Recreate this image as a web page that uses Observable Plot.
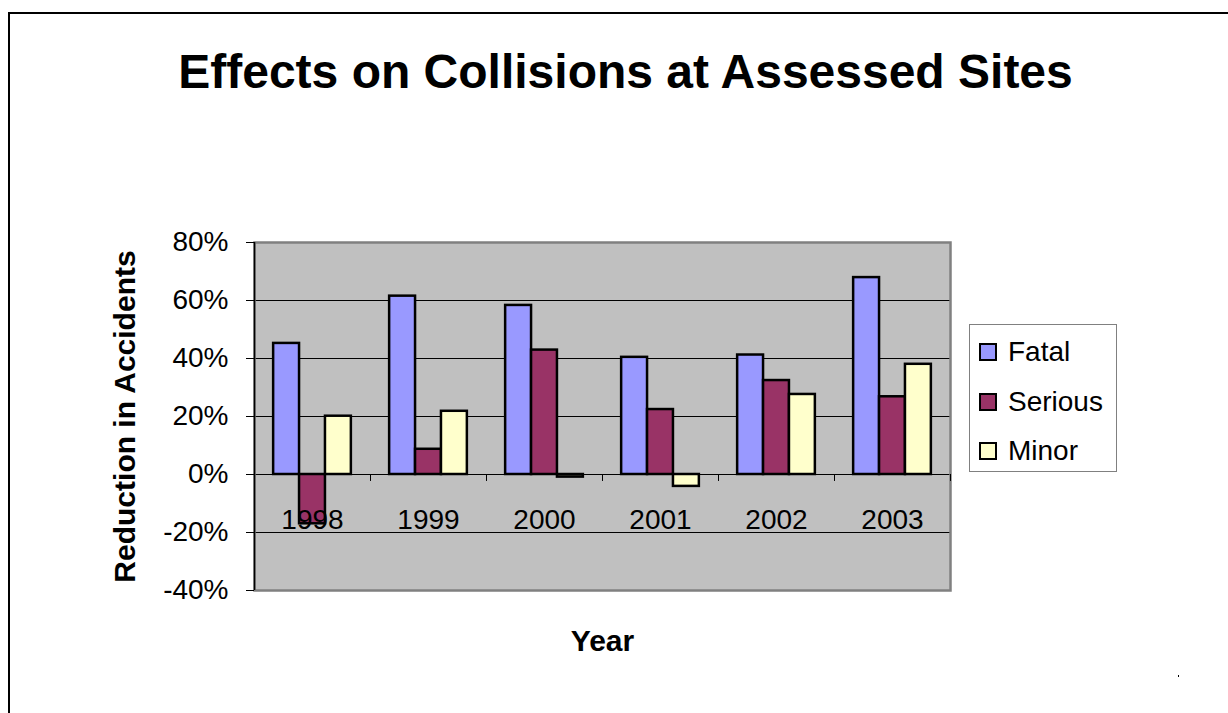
<!DOCTYPE html>
<html><head><meta charset="utf-8">
<script src="https://cdn.jsdelivr.net/npm/d3@7"></script>
<script src="https://cdn.jsdelivr.net/npm/@observablehq/plot@0.6"></script>
<style>
body{margin:0;background:#fff;font-family:"Liberation Sans",Arial,sans-serif;}
#wrap{position:relative;width:1228px;height:713px;overflow:hidden;}
#border{position:absolute;left:8px;top:12px;width:1300px;height:800px;border-left:2px solid #000;border-top:2px solid #000;}
#title{position:absolute;left:0;top:48px;width:1251px;text-align:center;font-weight:bold;font-size:48px;line-height:48px;color:#000;}
#chart{position:absolute;left:0;top:200px;}
#legend{position:absolute;left:969px;top:324px;width:148px;height:148px;box-sizing:border-box;border:1px solid #808080;background:#fff;}
.row{position:absolute;left:0;height:48px;width:146px;}
.sw{position:absolute;left:9px;top:15px;width:14px;height:14px;border:2px solid #000;}
.lab{position:absolute;left:38px;top:0;line-height:48px;font-size:28px;color:#000;}
#dot{position:absolute;left:1178px;top:675px;width:1px;height:2px;background:#000;}
</style></head>
<body>
<div id="wrap">
  <div id="border"></div>
  <div id="title">Effects on Collisions at Assessed Sites</div>
  <div id="chart"></div>
  <div id="legend"></div>
  <div id="dot"></div>
</div>
<script>
const years = ["1998", "1999", "2000", "2001", "2002", "2003"];
const seriesNames = ["Fatal", "Serious", "Minor"];
const fatal = [45.2, 61.5, 58.3, 40.4, 41.2, 67.9];
const serious = [-17.0, 8.7, 42.9, 22.4, 32.4, 26.8];
const minor = [20.1, 21.8, -0.9, -4.1, 27.6, 38.0];
const yTicks = [-40, -20, 0, 20, 40, 60, 80];
const colors = ["#9999FF", "#993366", "#FFFFCC"];

const W = 1228, H = 470;
const mL = 254, mR = 278, mT = 42, mB = 80;
const pInner = 0.33, pOuter = 0.165;
const plotW = W - mL - mR;
const step = plotW / (years.length - pInner + 2 * pOuter);
const bw = step * (1 - pInner);
const half = step / 2;
const tickLen = 2.4; // in y units (percent)

const seriesValues = [fatal, serious, minor];
const barMarks = seriesValues.map((vals, s) =>
  Plot.barY(vals, {
    x: (d, i) => years[i],
    y1: 0,
    y2: d => d,
    fill: colors[s],
    stroke: "#000",
    strokeWidth: 2.5,
    insetLeft: s * bw / 3,
    insetRight: (2 - s) * bw / 3
  })
);

const chart = Plot.plot({
  width: W, height: H,
  marginLeft: mL, marginRight: mR, marginTop: mT, marginBottom: mB,
  style: {fontFamily: '"Liberation Sans", Arial, sans-serif', background: "transparent", color: "#000", overflow: "visible"},
  x: {domain: years, type: "band", paddingInner: pInner, paddingOuter: pOuter, round: false, axis: null},
  y: {domain: [yTicks[0], yTicks[yTicks.length - 1]], axis: null},
  marks: [
    Plot.frame({fill: "#C0C0C0", stroke: "none"}),
    Plot.ruleY(yTicks.slice(1, -1), {stroke: "#000", strokeWidth: 1}),
    ...barMarks,
    Plot.frame({stroke: "#808080", strokeWidth: 2.5}),
    Plot.ruleX([years[0]], {x: d => d, dx: -half, y1: yTicks[0], y2: yTicks[yTicks.length - 1], stroke: "#000", strokeWidth: 1.5}),
    Plot.ruleX(years, {x: d => d, dx: -half, y1: 0, y2: -tickLen, stroke: "#000", strokeWidth: 1}),
    Plot.ruleX([years[years.length - 1]], {x: d => d, dx: half, y1: 0, y2: -tickLen, stroke: "#000", strokeWidth: 1}),
    Plot.axisY(yTicks, {tickSize: 8, tickPadding: 18, tickFormat: d => d + "%", fontSize: 28, label: null, stroke: "#000", fill: "#000"}),
    Plot.text(years, {x: d => d, y: 0, text: d => d, dy: 46, fontSize: 28, fill: "#000", lineAnchor: "middle", textAnchor: "middle"}),
    Plot.text(["Reduction in Accidents"], {frameAnchor: "left", text: d => d, dx: -129, rotate: -90, fontSize: 30, fontWeight: "bold", fill: "#000", textAnchor: "middle", lineAnchor: "middle"}),
    Plot.text(["Year"], {frameAnchor: "bottom", text: d => d, dy: 51, fontSize: 30, fontWeight: "bold", fill: "#000", textAnchor: "middle", lineAnchor: "middle"})
  ]
});
document.getElementById("chart").appendChild(chart);

const legend = document.getElementById("legend");
seriesNames.forEach((name, i) => {
  const row = document.createElement("div");
  row.className = "row";
  row.style.top = (3 + i * 49.5) + "px";
  const sw = document.createElement("div");
  sw.className = "sw";
  sw.style.background = colors[i];
  const lab = document.createElement("div");
  lab.className = "lab";
  lab.textContent = name;
  row.appendChild(sw);
  row.appendChild(lab);
  legend.appendChild(row);
});
</script>
</body></html>
